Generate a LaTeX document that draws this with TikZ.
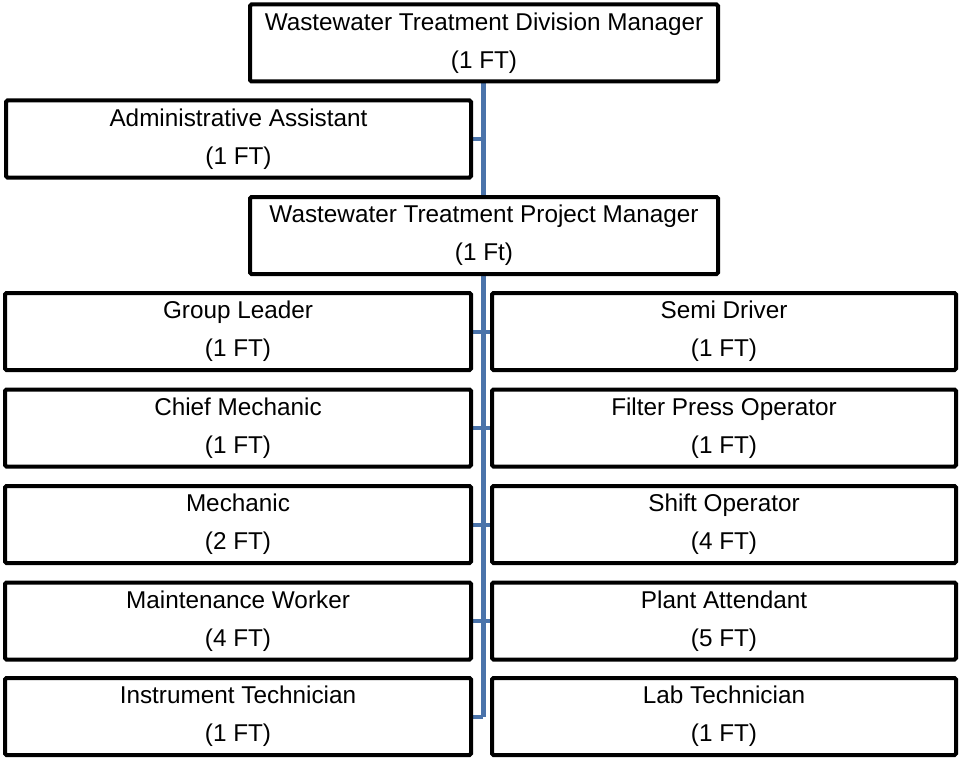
\documentclass[tikz,border=0pt]{standalone}
\usepackage{fontspec}
\setmainfont{Liberation Sans}
\usetikzlibrary{backgrounds}
\definecolor{spineblue}{RGB}{74,115,170}
\begin{document}
\begin{tikzpicture}[x=1pt,y=-1pt,
  box/.style={draw=black, fill=white, line width=4pt, rounded corners=1.5pt,
    minimum height=77pt, align=center, inner sep=0pt,
    font=\fontsize{24.3}{38}\selectfont},
  leftbox/.style={box, minimum width=466pt},
  rightbox/.style={box, minimum width=464pt},
  topbox/.style={box, minimum width=468pt},
  spine/.style={draw=spineblue, line width=5pt},
  tick/.style={draw=spineblue, line width=4pt}]
\useasboundingbox (0,0) rectangle (960,757);
\node[topbox] (dm) at (484,43) {Wastewater Treatment Division Manager\\(1 FT)};
\node[box, minimum width=465pt] (aa) at (238.5,139) {Administrative Assistant\\(1 FT)};
\node[topbox] (pm) at (484,235.5) {Wastewater Treatment Project Manager\\(1 Ft)};
\node[leftbox] (gl) at (238,331.5) {Group Leader\\(1 FT)};
\node[rightbox] (sd) at (724,331.5) {Semi Driver\\(1 FT)};
\node[leftbox] (cm) at (238,428) {Chief Mechanic\\(1 FT)};
\node[rightbox] (fp) at (724,428) {Filter Press Operator\\(1 FT)};
\node[leftbox] (me) at (238,524.5) {Mechanic\\(2 FT)};
\node[rightbox] (so) at (724,524.5) {Shift Operator\\(4 FT)};
\node[leftbox] (mw) at (238,621) {Maintenance Worker\\(4 FT)};
\node[rightbox] (pa) at (724,621) {Plant Attendant\\(5 FT)};
\node[leftbox] (it) at (238,716.5) {Instrument Technician\\(1 FT)};
\node[rightbox] (lt) at (724,716.5) {Lab Technician\\(1 FT)};
\coordinate (sx) at (483,0);
\coordinate (aajoin) at (sx |- aa.east);
\coordinate (spineend) at (sx |- it.east);
\coordinate (spinetop) at (sx |- dm.south);
\begin{scope}[on background layer]
  \draw[spine] (spinetop) -- (spineend);
  \draw[tick] (aa.east) -- (aajoin);
  \draw[tick] (gl.east) -- (sd.west);
  \draw[tick] (cm.east) -- (fp.west);
  \draw[tick] (me.east) -- (so.west);
  \draw[tick] (mw.east) -- (pa.west);
  \draw[tick] (it.east) -- (spineend);
\end{scope}
\end{tikzpicture}
\end{document}
